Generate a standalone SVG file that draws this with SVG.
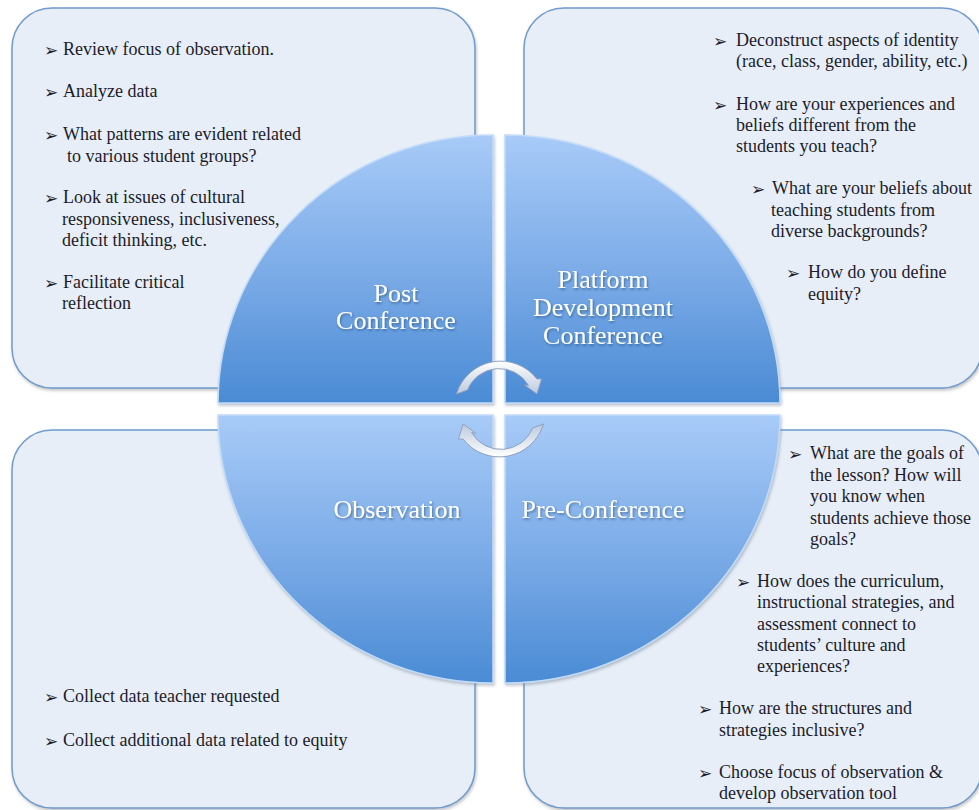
<svg xmlns="http://www.w3.org/2000/svg" width="979" height="810" viewBox="0 0 979 810">
<style>
.box{fill:#e7eef7;stroke:#6f9bd0;stroke-width:1.5;filter:url(#boxsh)}
.piece{stroke:#c2dbf9;stroke-width:1.5}
.t{font-family:"Liberation Serif","Times New Roman",serif;font-size:18px;fill:#1c1c2a}
.b{font-family:"DejaVu Sans",sans-serif;font-size:17px;fill:#1c1c2a}
.lbl{font-family:"Liberation Serif","Times New Roman",serif;font-size:26px;fill:#ffffff;text-anchor:middle;filter:url(#tsh)}
.arr{fill:url(#ag);stroke:#8fa1bd;stroke-width:1}
</style>
<defs>
<linearGradient id="pg" x1="0" y1="0" x2="0" y2="1">
<stop offset="0" stop-color="#a8cbf8"/>
<stop offset="0.55" stop-color="#78a9e6"/>
<stop offset="1" stop-color="#4a8bd4"/>
</linearGradient>
<linearGradient id="ag" x1="0" y1="0" x2="0" y2="1">
<stop offset="0" stop-color="#ffffff"/>
<stop offset="1" stop-color="#bccadf"/>
</linearGradient>
<filter id="boxsh" x="-5%" y="-5%" width="110%" height="110%">
<feDropShadow dx="1" dy="2" stdDeviation="1.5" flood-color="#8a8a8a" flood-opacity="0.5"/>
</filter>
<filter id="tsh" x="-10%" y="-20%" width="120%" height="140%">
<feDropShadow dx="1" dy="1.5" stdDeviation="1" flood-color="#24456f" flood-opacity="0.6"/>
</filter>
<filter id="psh" x="-5%" y="-5%" width="110%" height="110%">
<feDropShadow dx="1" dy="2" stdDeviation="1.5" flood-color="#6a7a90" flood-opacity="0.45"/>
</filter>
</defs>

<g id="box-post">
<rect class="box" x="12" y="8" width="463" height="380" rx="40" ry="40"/>
<text class="b" x="44" y="56">➢</text><text class="t" x="63" y="55">Review focus of observation.</text>
<text class="b" x="44" y="98">➢</text><text class="t" x="63" y="97">Analyze data</text>
<text class="b" x="44" y="141">➢</text><text class="t" x="63" y="140">What patterns are evident related</text>
<text class="t" x="67" y="162">to various student groups?</text>
<text class="b" x="44" y="204">➢</text><text class="t" x="63" y="203">Look at issues of cultural</text>
<text class="t" x="62" y="225">responsiveness, inclusiveness,</text>
<text class="t" x="62" y="246">deficit thinking, etc.</text>
<text class="b" x="44" y="289">➢</text><text class="t" x="63" y="288">Facilitate critical</text>
<text class="t" x="62" y="309">reflection</text>
</g>

<g id="box-platform">
<rect class="box" x="524" y="8" width="458" height="380" rx="40" ry="40"/>
<text class="b" x="713" y="47">➢</text><text class="t" x="736" y="46">Deconstruct aspects of identity</text>
<text class="t" x="736" y="67">(race, class, gender, ability, etc.)</text>
<text class="b" x="713" y="111">➢</text><text class="t" x="736" y="110">How are your experiences and</text>
<text class="t" x="736" y="131">beliefs different from the</text>
<text class="t" x="736" y="152">students you teach?</text>
<text class="b" x="751" y="195">➢</text><text class="t" x="772" y="194">What are your beliefs about</text>
<text class="t" x="771" y="216">teaching students from</text>
<text class="t" x="771" y="237">diverse backgrounds?</text>
<text class="b" x="786" y="279">➢</text><text class="t" x="808" y="278">How do you define</text>
<text class="t" x="808" y="300">equity?</text>
</g>

<g id="box-observation">
<rect class="box" x="12" y="430" width="463" height="378" rx="40" ry="40"/>
<text class="b" x="44" y="703">➢</text><text class="t" x="63" y="702">Collect data teacher requested</text>
<text class="b" x="44" y="747">➢</text><text class="t" x="63" y="746">Collect additional data related to equity</text>
</g>

<g id="box-pre">
<rect class="box" x="524" y="430" width="458" height="378" rx="40" ry="40"/>
<text class="b" x="788" y="460">➢</text><text class="t" x="810" y="459">What are the goals of</text>
<text class="t" x="810" y="481">the lesson? How will</text>
<text class="t" x="810" y="502">you know when</text>
<text class="t" x="810" y="524">students achieve those</text>
<text class="t" x="810" y="545">goals?</text>
<text class="b" x="736" y="588">➢</text><text class="t" x="757" y="587">How does the curriculum,</text>
<text class="t" x="757" y="608">instructional strategies, and</text>
<text class="t" x="757" y="630">assessment connect to</text>
<text class="t" x="757" y="651">students’ culture and</text>
<text class="t" x="757" y="672">experiences?</text>
<text class="b" x="698" y="715">➢</text><text class="t" x="719" y="714">How are the structures and</text>
<text class="t" x="719" y="736">strategies inclusive?</text>
<text class="b" x="698" y="779">➢</text><text class="t" x="719" y="778">Choose focus of observation &amp;</text>
<text class="t" x="719" y="799">develop observation tool</text>
</g>

<g id="piece-post" filter="url(#psh)">
<path class="piece" fill="url(#pg)" d="M493 403 L218 403 A275 268 0 0 1 493 135 Z"/>
<text class="lbl" x="396" y="302">Post</text>
<text class="lbl" x="396" y="329">Conference</text>
</g>
<g id="piece-platform" filter="url(#psh)">
<path class="piece" fill="url(#pg)" d="M505 403 L505 135 A275 268 0 0 1 780 403 Z"/>
<text class="lbl" x="603" y="288">Platform</text>
<text class="lbl" x="603" y="316">Development</text>
<text class="lbl" x="603" y="344">Conference</text>
</g>
<g id="piece-observation" filter="url(#psh)">
<path class="piece" fill="url(#pg)" d="M493 415 L493 683 A275 268 0 0 1 218 415 Z"/>
<text class="lbl" x="397" y="518">Observation</text>
</g>
<g id="piece-pre" filter="url(#psh)">
<path class="piece" fill="url(#pg)" d="M505 415 L780 415 A275 268 0 0 1 505 683 Z"/>
<text class="lbl" x="603" y="518">Pre-Conference</text>
</g>

<g id="connectors">
<g id="arrow-top">
<path class="arr" d="M456.5 394 A46 46 0 0 1 537 379 L541.5 379 L537 394 L524.5 385 L528.5 385.5 A34 34 0 0 0 467.5 390 Z"/>
</g>
<g id="arrow-bottom" transform="rotate(180 500 409)">
<path class="arr" d="M456.5 394 A46 46 0 0 1 537 379 L541.5 379 L537 394 L524.5 385 L528.5 385.5 A34 34 0 0 0 467.5 390 Z"/>
</g>
</g>
</svg>
